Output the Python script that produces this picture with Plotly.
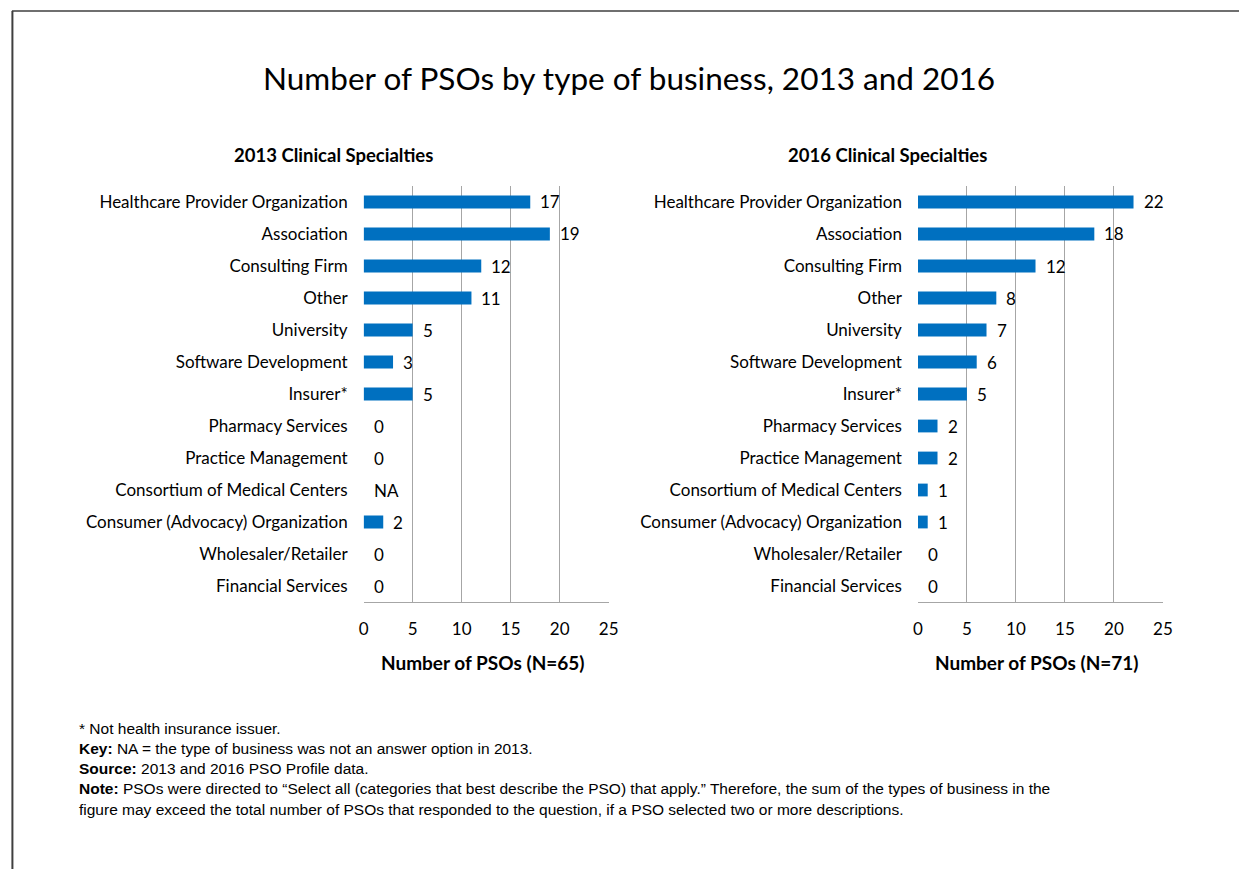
import plotly.graph_objects as go

categories = [
    "Healthcare Provider Organization", "Association", "Consulting Firm", "Other",
    "University", "Software Development", "Insurer*", "Pharmacy Services",
    "Practice Management", "Consortium of Medical Centers",
    "Consumer (Advocacy) Organization", "Wholesaler/Retailer", "Financial Services",
]
values_2013 = [17, 19, 12, 11, 5, 3, 5, 0, 0, None, 2, 0, 0]
values_2016 = [22, 18, 12, 8, 7, 6, 5, 2, 2, 1, 1, 0, 0]
x_ticks = [0, 5, 10, 15, 20, 25]

title = "Number of PSOs by type of business, 2013 and 2016"
panel_titles = ["2013 Clinical Specialties", "2016 Clinical Specialties"]
axis_titles = ["Number of PSOs (N=65)", "Number of PSOs (N=71)"]
notes = [
    "* Not health insurance issuer.",
    "<b>Key:</b> NA = the type of business was not an answer option in 2013.",
    "<b>Source:</b> 2013 and 2016 PSO Profile data.",
    "<b>Note:</b> PSOs were directed to \u201cSelect all (categories that best describe the PSO) that apply.\u201d Therefore, the sum of the types of business in the",
    "figure may exceed the total number of PSOs that responded to the question, if a PSO selected two or more descriptions.",
]

W, H = 1249, 869
BAR = "#0070C0"
GRID = "#A6A6A6"
FONT = "Lato"

fig = go.Figure()

def px_x(p):
    return p / W

def px_y(p):
    return 1 - p / H

domains = [(px_x(363), px_x(611)), (px_x(924), px_x(1172))]
ydom = (px_y(602), px_y(186))

for i, vals in enumerate([values_2013, values_2016]):
    xa = "x" if i == 0 else "x2"
    ya = "y" if i == 0 else "y2"
    plot_vals = [v if v is not None else 0 for v in vals]
    fig.add_trace(go.Bar(
        x=plot_vals, y=categories, orientation="h",
        marker=dict(color=BAR, line=dict(width=0)),
        width=0.4, xaxis=xa, yaxis=ya, showlegend=False, hoverinfo="skip",
    ))
    for c, v in zip(categories, vals):
        fig.add_annotation(
            x=(v if v is not None else 0), y=c, xref=xa, yref=ya,
            text=("NA" if v is None else str(v)), showarrow=False,
            xanchor="left", yanchor="middle", xshift=8,
            font=dict(family=FONT, size=17, color="#000000"),
        )

axis_common = dict(
    range=[0, 25], tickvals=x_ticks, showgrid=True, gridcolor=GRID, gridwidth=1,
    showline=True, linecolor=GRID, linewidth=1, zeroline=False, ticks="",
    tickfont=dict(family=FONT, size=17, color="#000000"), ticklabelstandoff=12,
    fixedrange=True,
)
y_common = dict(
    categoryorder="array", categoryarray=categories, autorange="reversed",
    showgrid=False, showline=False, zeroline=False, ticks="",
    tickfont=dict(family=FONT, size=17, color="#000000"), ticklabelstandoff=15,
    fixedrange=True,
)

fig.update_layout(
    width=W, height=H,
    margin=dict(l=0, r=0, t=0, b=0),
    paper_bgcolor="white", plot_bgcolor="white",
    bargap=0.6,
    xaxis=dict(domain=list(domains[0]), anchor="y", **axis_common),
    xaxis2=dict(domain=list(domains[1]), anchor="y2", **axis_common),
    yaxis=dict(domain=list(ydom), anchor="x", **y_common),
    yaxis2=dict(domain=list(ydom), anchor="x2", **y_common),
)

# main title
fig.add_annotation(x=px_x(632), y=px_y(78), xref="paper", yref="paper",
                   text=title, showarrow=False, xanchor="center", yanchor="middle",
                   font=dict(family=FONT, size=31.5, color="#000000"))
# panel titles
for cx, t in zip([332, 893], panel_titles):
    fig.add_annotation(x=px_x(cx), y=px_y(155), xref="paper", yref="paper",
                       text="<b>" + t + "</b>", showarrow=False, xanchor="center", yanchor="middle",
                       font=dict(family=FONT, size=18.5, color="#000000"))
# axis titles
for cx, t in zip([484, 1045], axis_titles):
    fig.add_annotation(x=px_x(cx), y=px_y(662), xref="paper", yref="paper",
                       text="<b>" + t + "</b>", showarrow=False, xanchor="center", yanchor="middle",
                       font=dict(family=FONT, size=19, color="#000000"))
# notes
fig.add_annotation(x=px_x(73), y=px_y(718), xref="paper", yref="paper",
                   text="<br>".join(notes), showarrow=False, xanchor="left", yanchor="top",
                   align="left",
                   font=dict(family="Liberation Sans", size=15.5, color="#000000"))

# outer border (top and left edges visible)
fig.add_shape(type="line", xref="paper", yref="paper", x0=px_x(7), x1=1, y0=px_y(11), y1=px_y(11),
              line=dict(color="#3F3F3F", width=1.5))
fig.add_shape(type="line", xref="paper", yref="paper", x0=px_x(7.5), x1=px_x(7.5), y0=px_y(11), y1=0,
              line=dict(color="#3F3F3F", width=2))

fig.write_html("out.html", config={"displayModeBar": False},
               post_script="document.body.style.margin='0';document.body.style.overflow='hidden';")
